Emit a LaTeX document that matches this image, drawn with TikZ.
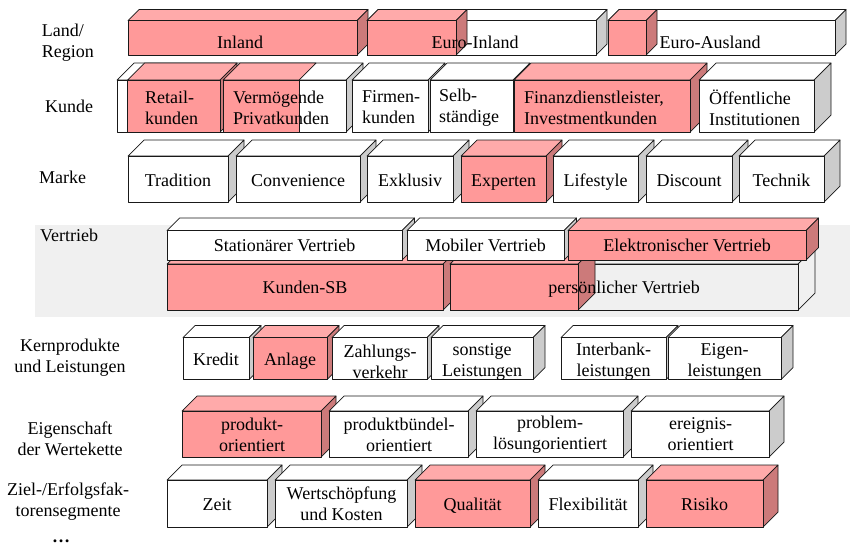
\documentclass[tikz,border=0pt]{standalone}
\usepackage{fontspec}
\setmainfont{Liberation Serif}

\definecolor{pinkF}{HTML}{FF9999}
\definecolor{pinkT}{HTML}{FFAAAA}
\definecolor{pinkS}{HTML}{CC7A7A}
\definecolor{greyS}{HTML}{CCCCCC}
\definecolor{bandF}{HTML}{F0F0F0}

% a cuboid: style prefix, left x, right x, front top y, front bottom y, depth
\newcommand{\wuerfel}[6]{%
  \path[#1top] (#2,#4) -- ++(#6,-#6) -- (#3+#6,#4-#6) -- (#3,#4) -- cycle;
  \path[#1side] (#3,#4) -- (#3+#6,#4-#6) -- (#3+#6,#5-#6) -- (#3,#5) -- cycle;
  \path[#1front] (#2,#4) rectangle (#3,#5);
}

\begin{document}
\begin{tikzpicture}[x=1pt,y=-1pt,
  boxedge/.style={draw=black!90, line width=0.7pt, line join=round},
  pkfront/.style={boxedge, fill=pinkF},
  pktop/.style={boxedge, fill=pinkT},
  pkside/.style={boxedge, fill=pinkS},
  wtfront/.style={boxedge, fill=white},
  wttop/.style={boxedge, fill=white},
  wtside/.style={boxedge, fill=greyS},
  gyfront/.style={boxedge, fill=bandF},
  gytop/.style={boxedge, fill=bandF},
  gyside/.style={boxedge, fill=bandF},
  lbl/.style={font=\fontsize{18}{21}\selectfont, inner sep=0pt},
]
\useasboundingbox (0,0) rectangle (850,547);

% shaded band behind the sales channels
\fill[bandF] (35,225) rectangle (850,317);

% Land/Region
\wuerfel{pk}{128}{357}{20.5}{55}{11}
\wuerfel{wt}{367}{596}{20.5}{55}{11}
\wuerfel{pk}{367}{456}{20.5}{55}{11}
\wuerfel{wt}{608}{835}{20.5}{55}{11}
\wuerfel{pk}{608}{646}{20.5}{55}{11}

% Kunde
\wuerfel{wt}{117}{346}{80}{132}{17}
\wuerfel{pk}{127.5}{220}{80}{132}{17}
\path[pktop] (223,80) -- ++(17,-17) -- (316,63) -- (299,80) -- cycle;
\path[pkfront] (223,80) rectangle (299,132);
\wuerfel{wt}{352}{428}{80}{132}{17}
\wuerfel{wt}{430}{513}{80}{132}{17}
\wuerfel{pk}{514}{690}{80}{132}{17}
\wuerfel{wt}{699}{814}{80}{132}{17}

% Marke
\wuerfel{wt}{128}{228}{156}{202}{16}
\wuerfel{wt}{236}{360}{156}{202}{16}
\wuerfel{wt}{367}{453}{156}{202}{16}
\wuerfel{pk}{461}{546}{156}{202}{16}
\wuerfel{wt}{553}{638}{156}{202}{16}
\wuerfel{wt}{646}{732}{156}{202}{16}
\wuerfel{wt}{739}{824}{156}{202}{16}

% Vertrieb, lower layer
\wuerfel{pk}{167}{443}{264}{310}{17}
\wuerfel{gy}{450}{798}{264}{310}{17}
\wuerfel{pk}{450}{578}{264}{310}{17}
% Vertrieb, upper layer
\wuerfel{wt}{167}{402}{230.5}{260}{12.5}
\wuerfel{wt}{407}{564}{230.5}{260}{12.5}
\wuerfel{pk}{568}{806}{230.5}{260}{12.5}

% Kernprodukte und Leistungen
\wuerfel{wt}{183}{249}{337.5}{379.5}{12}
\wuerfel{pk}{253}{327}{337.5}{379.5}{12}
\wuerfel{wt}{332}{427}{337.5}{379.5}{12}
\wuerfel{wt}{431}{533}{337.5}{379.5}{12}
\wuerfel{wt}{561}{666}{337.5}{379.5}{12}
\wuerfel{wt}{668}{781}{337.5}{379.5}{12}

% Eigenschaft der Wertekette
\wuerfel{pk}{182}{321}{411}{457}{15}
\wuerfel{wt}{329}{468}{411}{457}{15}
\wuerfel{wt}{476}{623}{411}{457}{15}
\wuerfel{wt}{631}{769}{411}{457}{15}

% Ziel-/Erfolgsfaktorensegmente
\wuerfel{wt}{167}{267}{480}{527}{15}
\wuerfel{wt}{275}{407}{480}{527}{15}
\wuerfel{pk}{415}{530}{480}{527}{15}
\wuerfel{wt}{538}{638}{480}{527}{15}
\wuerfel{pk}{646}{763}{480}{527}{15}

% row labels
\node[lbl, align=left, anchor=west] (landreg) at (41.7,43) {Land/\\Region};
\node[lbl, anchor=base west] (kunde) at (45,112.7) {Kunde};
\node[lbl, anchor=base west] (marke) at (39,183.3) {Marke};
\node[lbl, anchor=base west] (vertrieb) at (40,241.7) {Vertrieb};
\node[lbl, align=center] (kern) at (70,358) {Kernprodukte\\und Leistungen};
\node[lbl, align=center] (eigensch) at (70,438.5) {Eigenschaft\\der Wertekette};
\node[lbl, align=center] (ziel) at (68,502) {Ziel-/Erfolgsfak-\\torensegmente};
\node[lbl, anchor=base] (dots) at (61,542) {\textbf{…}};

% Land/Region texts
\node[lbl, anchor=base] (inland) at (240,48) {Inland};
\node[lbl, anchor=base] (euroin) at (475,48) {Euro-Inland};
\node[lbl, anchor=base] (euroaus) at (710,48) {Euro-Ausland};

% Kunde texts
\node[lbl, align=left, anchor=west] (retail) at (145,107.5) {Retail-\\kunden};
\node[lbl, align=left, anchor=west] (vermoeg) at (233,107.5) {Vermögende\\Privatkunden};
\node[lbl, align=left, anchor=west] (firmen) at (362,107.5) {Firmen-\\kunden};
\node[lbl, align=left, anchor=west] (selb) at (439,107.5) {Selb-\\ständige};
\node[lbl, align=left, anchor=west] (finanz) at (524,107.5) {Finanzdienstleister,\\Investmentkunden};
\node[lbl, align=left, anchor=west] (oeff) at (709,107.5) {Öffentliche\\Institutionen};

% Marke texts
\node[lbl, anchor=base] (tradition) at (178,186) {Tradition};
\node[lbl, anchor=base] (convenience) at (298,186) {Convenience};
\node[lbl, anchor=base] (exklusiv) at (410,186) {Exklusiv};
\node[lbl, anchor=base] (experten) at (503.5,186) {Experten};
\node[lbl, anchor=base] (lifestyle) at (595.5,186) {Lifestyle};
\node[lbl, anchor=base] (discount) at (689,186) {Discount};
\node[lbl, anchor=base] (technik) at (781.5,186) {Technik};

% Vertrieb texts
\node[lbl, anchor=base] (station) at (284.5,251.7) {Stationärer Vertrieb};
\node[lbl, anchor=base] (mobil) at (485.5,251.7) {Mobiler Vertrieb};
\node[lbl, anchor=base] (elektro) at (687,251.7) {Elektronischer Vertrieb};
\node[lbl, anchor=base] (kundensb) at (305,293.3) {Kunden-SB};
\node[lbl, anchor=base] (persoenl) at (624,293.3) {persönlicher Vertrieb};

% Kernprodukte texts
\node[lbl, anchor=base] (kredit) at (216,365) {Kredit};
\node[lbl, anchor=base] (anlage) at (290,365) {Anlage};
\node[lbl, align=center] (zahlung) at (380,361.5) {Zahlungs-\\verkehr};
\node[lbl, align=center] (sonstige) at (482,361.5) {sonstige\\Leistungen};
\node[lbl, align=center] (interbank) at (613.5,361.5) {Interbank-\\leistungen};
\node[lbl, align=center] (eigenl) at (724.5,361.5) {Eigen-\\leistungen};

% Wertekette texts
\node[lbl, align=center] (produkt) at (252,434.5) {produkt-\\orientiert};
\node[lbl, align=center] (buendel) at (399,434.5) {produktbündel-\\orientiert};
\node[lbl, align=center] (problem) at (550,434.5) {problem-\\lösungorientiert};
\node[lbl, align=center] (ereignis) at (700.5,434.5) {ereignis-\\orientiert};

% Erfolgsfaktoren texts
\node[lbl, anchor=base] (zeit) at (217,510.5) {Zeit};
\node[lbl, align=center] (wertsch) at (341.5,504) {Wertschöpfung\\und Kosten};
\node[lbl, anchor=base] (qualitaet) at (472.5,510.5) {Qualität};
\node[lbl, anchor=base] (flex) at (588,510.5) {Flexibilität};
\node[lbl, anchor=base] (risiko) at (704.5,510.5) {Risiko};
\end{tikzpicture}
\end{document}
